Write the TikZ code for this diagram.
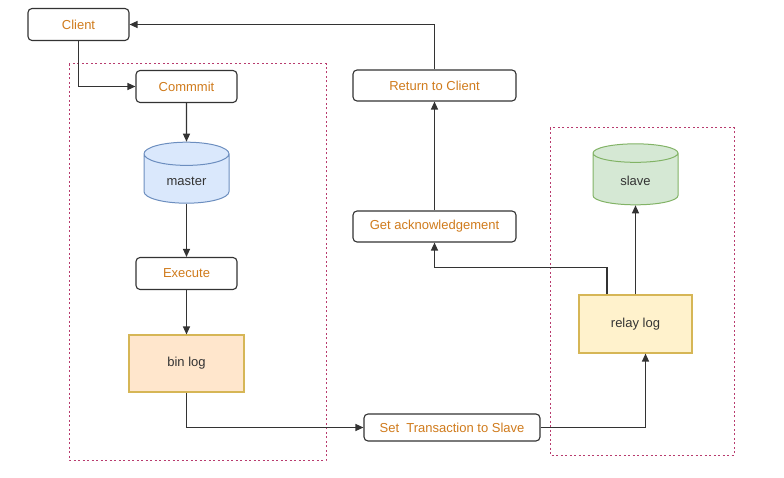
\documentclass[tikz,border=0pt]{standalone}
\usepackage{fontspec}
\setmainfont{Liberation Sans}
\usetikzlibrary{shapes,arrows.meta,calc,backgrounds}
\definecolor{txtorange}{HTML}{D07B1C}
\definecolor{txtgray}{HTML}{333333}
\definecolor{edgegray}{HTML}{333333}
\definecolor{groupred}{HTML}{B83B6E}
\definecolor{masterfill}{HTML}{DAE8FC}
\definecolor{masterdraw}{HTML}{6C8EBF}
\definecolor{slavefill}{HTML}{D5E8D4}
\definecolor{slavedraw}{HTML}{82B366}
\definecolor{binfill}{HTML}{FFE6CC}
\definecolor{relayfill}{HTML}{FFF2CC}
\definecolor{logdraw}{HTML}{D6B656}
\tikzset{
    block/.style={rectangle, draw=edgegray, fill=white, rounded corners=4pt, minimum width=101pt, minimum height=32pt, text=txtorange, font=\fontsize{13}{15}\selectfont, line width=1.1pt},
    logbox/.style={rectangle, draw=logdraw, minimum width=115pt, minimum height=57pt, text=txtgray, font=\fontsize{13}{15}\selectfont, line width=1.1pt},
    db/.style={cylinder, shape border rotate=90, aspect=0.5, draw, minimum width=85pt, minimum height=61pt, text=txtgray, font=\fontsize{13}{15}\selectfont, line width=1pt, cylinder uses custom fill},
    line/.style={draw=edgegray, -{Triangle[length=8pt,width=7pt]}, line width=1.2pt},
    group/.style={draw=groupred, dash pattern=on 2pt off 2.5pt, line width=1pt}
}
\begin{document}
\begin{tikzpicture}[x=1pt, y=-1pt]
    \useasboundingbox (0,0) rectangle (784,478);

    % dashed groups
    \draw [group] (69,64) rectangle (326,460);
    \draw [group] (550,128) rectangle (734,455);

    % master side
    \node [block] (client) at (78.5,24.5) {Client};
    \node [block] (commit) at (186.5,86.5) {Commmit};
    \node [db, draw=masterdraw, cylinder body fill=masterfill, cylinder end fill=masterfill] (master) at (186.5,181) {master};
    \node [block] (execute) at (186.5,273.5) {Execute};
    \node [logbox, fill=binfill] (binlog) at (186.5,363.5) {bin log};

    % middle
    \node [block, minimum width=176pt, minimum height=27pt] (settx) at (452,427.5) {Set\ \ Transaction to Slave};
    \node [block, minimum width=163pt, minimum height=31pt] (ack) at (434.5,226.5) {Get acknowledgement};
    \node [block, minimum width=163pt, minimum height=31pt] (return) at (434.5,85.5) {Return to Client};

    % slave side
    \node [logbox, fill=relayfill, minimum width=113pt, minimum height=58pt] (relay) at (635.5,324) {relay log};
    \node [db, draw=slavedraw, cylinder body fill=slavefill, cylinder end fill=slavefill] (slave) at (635.5,181) {slave};

    \path [line] (client.south) |- (commit.west);
    \path [line] (commit) -- (master);
    \path [line] (master) -- (execute);
    \path [line] (execute) -- (binlog);
    \path [line] (binlog.south) |- (settx.west);
    \path [line] (settx.east) -| ([xshift=10pt]relay.south);
    \path [line] (relay) -- (slave);
    \path [line] ([xshift=-28.5pt]relay.north) -- ++(0,-27) -| (ack.south);
    \path [line] (ack) -- (return);
    \path [line] (return.north) |- (client.east);
\end{tikzpicture}
\end{document}
